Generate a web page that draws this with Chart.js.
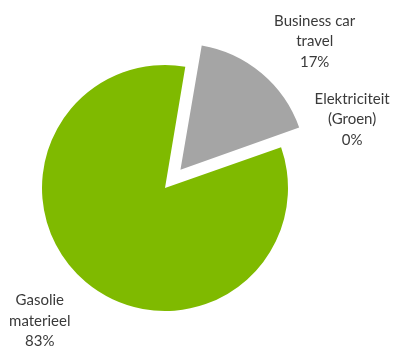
<!DOCTYPE html>
<html>
<head>
<meta charset="utf-8">
<script src="https://cdn.jsdelivr.net/npm/chart.js@4"></script>
<style>
  html, body { margin: 0; padding: 0; background: #fff; }
  #wrap { width: 395px; height: 349px; }
</style>
</head>
<body>
<div id="wrap"><canvas id="pieChart" width="395" height="349"></canvas></div>
<script>
// data
const labels = [['Business car', 'travel'], ['Elektriciteit', '(Groen)'], ['Gasolie', 'materieel']];
const values = [17, 0, 83];
const colors = ['#A5A5A5', '#4F81BD', '#7FBA00'];
const explode = [24, 0, 0];

// label shift from the outer point of each slice (x, y)
const labelShift = [[55, -34], [71, -28], [-46, 39]];

const pieLabels = {
  id: 'pieLabels',
  afterDatasetsDraw(chart) {
    const ctx = chart.ctx;
    const meta = chart.getDatasetMeta(0);
    const total = values.reduce((a, b) => a + b, 0);
    ctx.save();
    ctx.font = '15px Lato';
    ctx.fillStyle = '#3a3a3a';
    ctx.textAlign = 'center';
    ctx.textBaseline = 'middle';
    meta.data.forEach((arc, i) => {
      const p = arc.getProps(['x', 'y', 'startAngle', 'endAngle', 'outerRadius'], true);
      const mid = (p.startAngle + p.endAngle) / 2;
      const r = p.outerRadius + explode[i];
      const cx = p.x + Math.cos(mid) * r + labelShift[i][0];
      const cy = p.y + Math.sin(mid) * r + labelShift[i][1];
      const pct = Math.round(values[i] / total * 100) + '%';
      const lines = labels[i].concat([pct]);
      const lh = 20.5;
      lines.forEach((t, k) => {
        ctx.fillText(t, cx, cy + (k - (lines.length - 1) / 2) * lh);
      });
    });
    ctx.restore();
  }
};

new Chart(document.getElementById('pieChart'), {
  type: 'pie',
  data: {
    labels: labels,
    datasets: [{
      data: values,
      backgroundColor: colors,
      borderWidth: 0,
      // chart.js draws offset / 4
      offset: explode.map(v => v * 4)
    }]
  },
  options: {
    responsive: false,
    animation: false,
    rotation: 9.5,
    radius: 123,
    layout: { padding: { left: 0, right: 65, top: 27, bottom: 0 } },
    plugins: {
      legend: { display: false },
      tooltip: { enabled: false }
    }
  },
  plugins: [pieLabels]
});
</script>
</body>
</html>
